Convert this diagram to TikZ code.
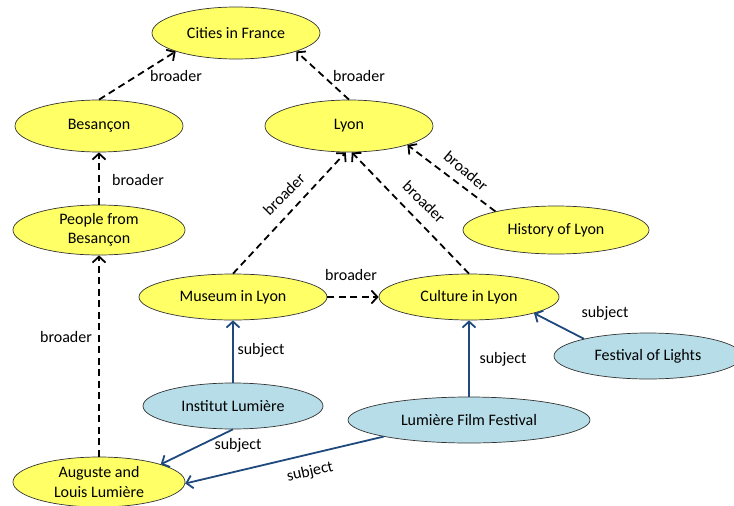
\documentclass[tikz,border=0pt]{standalone}
\usepackage{fontspec}
\setmainfont{Carlito}
\usetikzlibrary{shapes.geometric,arrows.meta}
\definecolor{nodeyellow}{HTML}{FFFF66}
\definecolor{nodeblue}{HTML}{B7DEE8}
\definecolor{linkblue}{HTML}{1F497D}
\begin{document}
\begin{tikzpicture}[x=1pt,y=-1pt,
  every node/.style={font=\fontsize{16}{19.5}\selectfont},
  concept/.style={ellipse, draw=black!80, line width=0.7pt, fill=nodeyellow, inner sep=0pt, align=center},
  res/.style={concept, fill=nodeblue},
  broader/.style={draw=black, line width=1.8pt, dash pattern=on 7pt off 4.5pt, -{Straight Barb[length=6pt,width=13pt]}},
  subj/.style={draw=linkblue, line width=1.8pt, -{Straight Barb[length=6pt,width=13pt]}},
  lbl/.style={inner sep=1pt}
]
\useasboundingbox (0,0) rectangle (734,506);
\node[concept, minimum width=168pt, minimum height=52pt] (cities) at (236,33) {Cities in France};
\node[concept, minimum width=168pt, minimum height=52pt] (bes) at (99,126) {Besançon};
\node[concept, minimum width=168pt, minimum height=52pt] (lyon) at (349,126) {Lyon};
\node[concept, minimum width=172pt, minimum height=50pt] (people) at (99,230) {People from\\Besançon};
\node[concept, minimum width=186pt, minimum height=48pt] (history) at (556,230) {History of Lyon};
\node[concept, minimum width=188pt, minimum height=46pt] (museum) at (233,297) {Museum in Lyon};
\node[concept, minimum width=180pt, minimum height=46pt] (culture) at (469,297) {Culture in Lyon};
\node[res, minimum width=188pt, minimum height=46pt] (lights) at (648,356) {Festival of Lights};
\node[res, minimum width=180pt, minimum height=46pt] (institut) at (233,406) {Institut Lumière};
\node[res, minimum width=242pt, minimum height=46pt] (film) at (469,420) {Lumière Film Festival};
\node[concept, minimum width=172pt, minimum height=50pt] (auguste) at (99,482) {Auguste and\\Louis Lumière};

\draw[broader] (bes.north) -- (cities.197) node[lbl, at={(176,76)}] {broader};
\draw[broader] (lyon.north) -- (cities.343) node[lbl, at={(359,76)}] {broader};
\draw[broader] (people.north) -- (bes.south) node[lbl, at={(138,180)}] {broader};
\draw[broader] (museum.north) -- (lyon.263) node[lbl, rotate=45, at={(284,194)}] {broader};
\draw[broader] (culture.north) -- (lyon.276) node[lbl, rotate=-44, at={(424,202)}] {broader};
\draw[broader] (history.163) -- (lyon.342) node[lbl, rotate=-40, at={(466,171)}] {broader};
\draw[broader] (museum.east) -- (culture.west) node[lbl, at={(351,275)}] {broader};
\draw[broader] (auguste.north) -- (people.south) node[lbl, at={(66,337)}] {broader};
\draw[subj] (institut.north) -- (museum.south) node[lbl, at={(261,350)}] {subject};
\draw[subj] (institut.south) -- (auguste.16) node[lbl, at={(238,445)}] {subject};
\draw[subj] (film.north) -- (culture.south) node[lbl, at={(503,359)}] {subject};
\draw[subj] (lights.165) -- (culture.346) node[lbl, at={(605,313)}] {subject};
\draw[subj] (film.191) -- (auguste.359) node[lbl, rotate=13, at={(310,472)}] {subject};
\end{tikzpicture}
\end{document}
